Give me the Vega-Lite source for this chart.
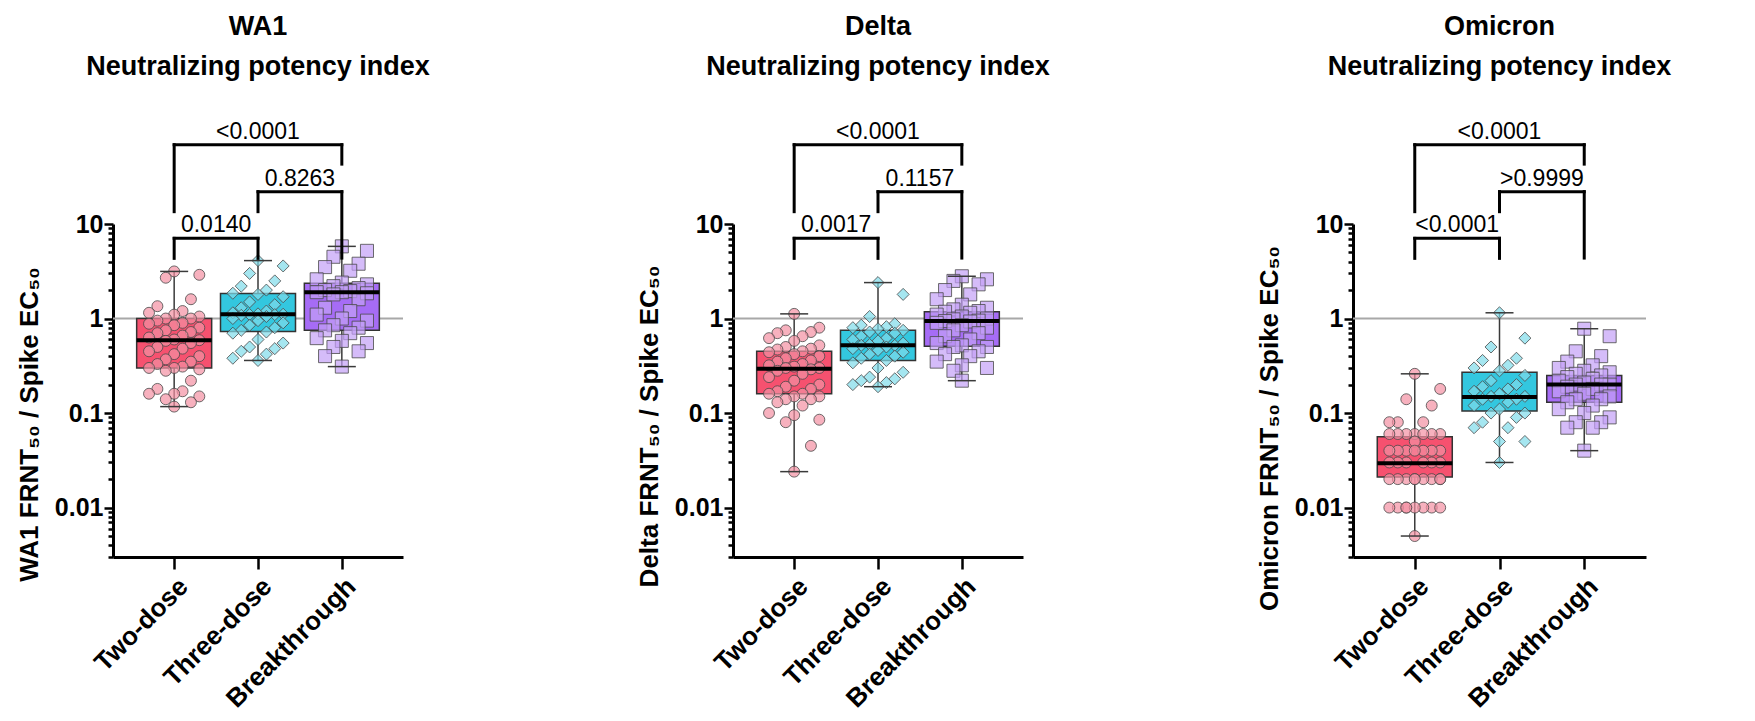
{
"$schema": "https://vega.github.io/schema/vega-lite/v6.json",
"background": "white",
"padding": {"left": 16, "top": 12, "right": 5, "bottom": 2},
"config": {
  "view": {"stroke": null},
  "font": "Liberation Sans",
  "axis": {"grid": false, "domainColor": "black", "domainWidth": 3, "tickColor": "black", "tickWidth": 2.5, "labelFont": "Liberation Sans", "labelFontWeight": "bold", "labelColor": "black", "titleFont": "Liberation Sans", "titleFontWeight": "bold", "titleColor": "black"},
  "title": {"font": "Liberation Sans", "fontSize": 27, "fontWeight": "bold", "color": "black", "lineHeight": 40, "anchor": "middle", "frame": "group", "offset": 40}
},
"datasets": {
  "ref": [{"y": 1}],
  "stats": [
    {"v": "WA1", "g": "Two-dose", "min": 0.117, "q1": 0.30, "med": 0.59, "q3": 1.0, "max": 3.15},
    {"v": "WA1", "g": "Three-dose", "min": 0.36, "q1": 0.73, "med": 1.11, "q3": 1.84, "max": 4.1},
    {"v": "WA1", "g": "Breakthrough", "min": 0.31, "q1": 0.75, "med": 1.9, "q3": 2.36, "max": 5.8},
    {"v": "Delta", "g": "Two-dose", "min": 0.024, "q1": 0.16, "med": 0.295, "q3": 0.45, "max": 1.12},
    {"v": "Delta", "g": "Three-dose", "min": 0.19, "q1": 0.36, "med": 0.52, "q3": 0.75, "max": 2.4},
    {"v": "Delta", "g": "Breakthrough", "min": 0.22, "q1": 0.51, "med": 0.94, "q3": 1.18, "max": 2.8},
    {"v": "Omicron", "g": "Two-dose", "min": 0.005, "q1": 0.021, "med": 0.0295, "q3": 0.056, "max": 0.26},
    {"v": "Omicron", "g": "Three-dose", "min": 0.03, "q1": 0.105, "med": 0.148, "q3": 0.27, "max": 1.15},
    {"v": "Omicron", "g": "Breakthrough", "min": 0.04, "q1": 0.13, "med": 0.20, "q3": 0.25, "max": 0.78}
  ],
  "br": [
    {"v": "WA1", "a": 0, "b": 2, "top": 69, "lb": 13.5, "rb": 43, "p": "<0.0001"},
    {"v": "WA1", "a": 1, "b": 2, "top": 22, "lb": 13.5, "rb": 4.36, "p": "0.8263"},
    {"v": "WA1", "a": 0, "b": 1, "top": 7.05, "lb": 4.33, "rb": 4.33, "p": "0.0140"},
    {"v": "Delta", "a": 0, "b": 2, "top": 69, "lb": 13.5, "rb": 43, "p": "<0.0001"},
    {"v": "Delta", "a": 1, "b": 2, "top": 22, "lb": 13.5, "rb": 4.36, "p": "0.1157"},
    {"v": "Delta", "a": 0, "b": 1, "top": 7.05, "lb": 4.33, "rb": 4.33, "p": "0.0017"},
    {"v": "Omicron", "a": 0, "b": 2, "top": 69, "lb": 13.5, "rb": 43, "p": "<0.0001"},
    {"v": "Omicron", "a": 1, "b": 2, "top": 22, "lb": 13.5, "rb": 4.36, "p": ">0.9999"},
    {"v": "Omicron", "a": 0, "b": 1, "top": 7.05, "lb": 4.33, "rb": 4.33, "p": "<0.0001"}
  ],
  "pts": [
    {"v":"WA1","g":"Two-dose","y":3.15},{"v":"WA1","g":"Two-dose","y":2.9},{"v":"WA1","g":"Two-dose","y":2.7},{"v":"WA1","g":"Two-dose","y":1.6},{"v":"WA1","g":"Two-dose","y":1.35},{"v":"WA1","g":"Two-dose","y":1.2},{"v":"WA1","g":"Two-dose","y":1.15},{"v":"WA1","g":"Two-dose","y":1.1},{"v":"WA1","g":"Two-dose","y":1.05},{"v":"WA1","g":"Two-dose","y":1.0},{"v":"WA1","g":"Two-dose","y":1.0},{"v":"WA1","g":"Two-dose","y":0.95},{"v":"WA1","g":"Two-dose","y":0.9},{"v":"WA1","g":"Two-dose","y":0.88},{"v":"WA1","g":"Two-dose","y":0.85},{"v":"WA1","g":"Two-dose","y":0.8},{"v":"WA1","g":"Two-dose","y":0.75},{"v":"WA1","g":"Two-dose","y":0.72},{"v":"WA1","g":"Two-dose","y":0.7},{"v":"WA1","g":"Two-dose","y":0.66},{"v":"WA1","g":"Two-dose","y":0.63},{"v":"WA1","g":"Two-dose","y":0.6},{"v":"WA1","g":"Two-dose","y":0.59},{"v":"WA1","g":"Two-dose","y":0.58},{"v":"WA1","g":"Two-dose","y":0.55},{"v":"WA1","g":"Two-dose","y":0.5},{"v":"WA1","g":"Two-dose","y":0.48},{"v":"WA1","g":"Two-dose","y":0.45},{"v":"WA1","g":"Two-dose","y":0.42},{"v":"WA1","g":"Two-dose","y":0.4},{"v":"WA1","g":"Two-dose","y":0.37},{"v":"WA1","g":"Two-dose","y":0.35},{"v":"WA1","g":"Two-dose","y":0.33},{"v":"WA1","g":"Two-dose","y":0.31},{"v":"WA1","g":"Two-dose","y":0.3},{"v":"WA1","g":"Two-dose","y":0.3},{"v":"WA1","g":"Two-dose","y":0.29},{"v":"WA1","g":"Two-dose","y":0.28},{"v":"WA1","g":"Two-dose","y":0.22},{"v":"WA1","g":"Two-dose","y":0.18},{"v":"WA1","g":"Two-dose","y":0.17},{"v":"WA1","g":"Two-dose","y":0.16},{"v":"WA1","g":"Two-dose","y":0.16},{"v":"WA1","g":"Two-dose","y":0.15},{"v":"WA1","g":"Two-dose","y":0.14},{"v":"WA1","g":"Two-dose","y":0.13},{"v":"WA1","g":"Two-dose","y":0.117},
    {"v":"WA1","g":"Three-dose","y":4.1},{"v":"WA1","g":"Three-dose","y":3.6},{"v":"WA1","g":"Three-dose","y":3.0},{"v":"WA1","g":"Three-dose","y":2.5},{"v":"WA1","g":"Three-dose","y":2.2},{"v":"WA1","g":"Three-dose","y":2.0},{"v":"WA1","g":"Three-dose","y":1.85},{"v":"WA1","g":"Three-dose","y":1.8},{"v":"WA1","g":"Three-dose","y":1.7},{"v":"WA1","g":"Three-dose","y":1.5},{"v":"WA1","g":"Three-dose","y":1.4},{"v":"WA1","g":"Three-dose","y":1.3},{"v":"WA1","g":"Three-dose","y":1.2},{"v":"WA1","g":"Three-dose","y":1.15},{"v":"WA1","g":"Three-dose","y":1.12},{"v":"WA1","g":"Three-dose","y":1.11},{"v":"WA1","g":"Three-dose","y":1.1},{"v":"WA1","g":"Three-dose","y":1.1},{"v":"WA1","g":"Three-dose","y":1.08},{"v":"WA1","g":"Three-dose","y":1.05},{"v":"WA1","g":"Three-dose","y":1.0},{"v":"WA1","g":"Three-dose","y":0.95},{"v":"WA1","g":"Three-dose","y":0.9},{"v":"WA1","g":"Three-dose","y":0.85},{"v":"WA1","g":"Three-dose","y":0.8},{"v":"WA1","g":"Three-dose","y":0.75},{"v":"WA1","g":"Three-dose","y":0.72},{"v":"WA1","g":"Three-dose","y":0.7},{"v":"WA1","g":"Three-dose","y":0.6},{"v":"WA1","g":"Three-dose","y":0.55},{"v":"WA1","g":"Three-dose","y":0.5},{"v":"WA1","g":"Three-dose","y":0.48},{"v":"WA1","g":"Three-dose","y":0.45},{"v":"WA1","g":"Three-dose","y":0.42},{"v":"WA1","g":"Three-dose","y":0.38},{"v":"WA1","g":"Three-dose","y":0.36},
    {"v":"WA1","g":"Breakthrough","y":5.8},{"v":"WA1","g":"Breakthrough","y":5.2},{"v":"WA1","g":"Breakthrough","y":4.5},{"v":"WA1","g":"Breakthrough","y":3.8},{"v":"WA1","g":"Breakthrough","y":3.5},{"v":"WA1","g":"Breakthrough","y":3.2},{"v":"WA1","g":"Breakthrough","y":2.6},{"v":"WA1","g":"Breakthrough","y":2.4},{"v":"WA1","g":"Breakthrough","y":2.3},{"v":"WA1","g":"Breakthrough","y":2.2},{"v":"WA1","g":"Breakthrough","y":2.1},{"v":"WA1","g":"Breakthrough","y":2.0},{"v":"WA1","g":"Breakthrough","y":1.95},{"v":"WA1","g":"Breakthrough","y":1.9},{"v":"WA1","g":"Breakthrough","y":1.9},{"v":"WA1","g":"Breakthrough","y":1.85},{"v":"WA1","g":"Breakthrough","y":1.8},{"v":"WA1","g":"Breakthrough","y":1.6},{"v":"WA1","g":"Breakthrough","y":1.3},{"v":"WA1","g":"Breakthrough","y":1.2},{"v":"WA1","g":"Breakthrough","y":1.1},{"v":"WA1","g":"Breakthrough","y":1.0},{"v":"WA1","g":"Breakthrough","y":0.95},{"v":"WA1","g":"Breakthrough","y":0.85},{"v":"WA1","g":"Breakthrough","y":0.8},{"v":"WA1","g":"Breakthrough","y":0.75},{"v":"WA1","g":"Breakthrough","y":0.7},{"v":"WA1","g":"Breakthrough","y":0.62},{"v":"WA1","g":"Breakthrough","y":0.58},{"v":"WA1","g":"Breakthrough","y":0.55},{"v":"WA1","g":"Breakthrough","y":0.5},{"v":"WA1","g":"Breakthrough","y":0.45},{"v":"WA1","g":"Breakthrough","y":0.4},{"v":"WA1","g":"Breakthrough","y":0.31},
    {"v":"Delta","g":"Two-dose","y":1.12},{"v":"Delta","g":"Two-dose","y":0.8},{"v":"Delta","g":"Two-dose","y":0.75},{"v":"Delta","g":"Two-dose","y":0.72},{"v":"Delta","g":"Two-dose","y":0.7},{"v":"Delta","g":"Two-dose","y":0.65},{"v":"Delta","g":"Two-dose","y":0.62},{"v":"Delta","g":"Two-dose","y":0.58},{"v":"Delta","g":"Two-dose","y":0.52},{"v":"Delta","g":"Two-dose","y":0.5},{"v":"Delta","g":"Two-dose","y":0.48},{"v":"Delta","g":"Two-dose","y":0.47},{"v":"Delta","g":"Two-dose","y":0.45},{"v":"Delta","g":"Two-dose","y":0.44},{"v":"Delta","g":"Two-dose","y":0.42},{"v":"Delta","g":"Two-dose","y":0.4},{"v":"Delta","g":"Two-dose","y":0.38},{"v":"Delta","g":"Two-dose","y":0.36},{"v":"Delta","g":"Two-dose","y":0.35},{"v":"Delta","g":"Two-dose","y":0.33},{"v":"Delta","g":"Two-dose","y":0.32},{"v":"Delta","g":"Two-dose","y":0.31},{"v":"Delta","g":"Two-dose","y":0.3},{"v":"Delta","g":"Two-dose","y":0.3},{"v":"Delta","g":"Two-dose","y":0.29},{"v":"Delta","g":"Two-dose","y":0.28},{"v":"Delta","g":"Two-dose","y":0.26},{"v":"Delta","g":"Two-dose","y":0.24},{"v":"Delta","g":"Two-dose","y":0.22},{"v":"Delta","g":"Two-dose","y":0.2},{"v":"Delta","g":"Two-dose","y":0.19},{"v":"Delta","g":"Two-dose","y":0.18},{"v":"Delta","g":"Two-dose","y":0.17},{"v":"Delta","g":"Two-dose","y":0.16},{"v":"Delta","g":"Two-dose","y":0.16},{"v":"Delta","g":"Two-dose","y":0.15},{"v":"Delta","g":"Two-dose","y":0.15},{"v":"Delta","g":"Two-dose","y":0.14},{"v":"Delta","g":"Two-dose","y":0.14},{"v":"Delta","g":"Two-dose","y":0.13},{"v":"Delta","g":"Two-dose","y":0.12},{"v":"Delta","g":"Two-dose","y":0.1},{"v":"Delta","g":"Two-dose","y":0.095},{"v":"Delta","g":"Two-dose","y":0.085},{"v":"Delta","g":"Two-dose","y":0.08},{"v":"Delta","g":"Two-dose","y":0.045},{"v":"Delta","g":"Two-dose","y":0.024},
    {"v":"Delta","g":"Three-dose","y":2.4},{"v":"Delta","g":"Three-dose","y":1.8},{"v":"Delta","g":"Three-dose","y":1.05},{"v":"Delta","g":"Three-dose","y":0.88},{"v":"Delta","g":"Three-dose","y":0.85},{"v":"Delta","g":"Three-dose","y":0.82},{"v":"Delta","g":"Three-dose","y":0.8},{"v":"Delta","g":"Three-dose","y":0.78},{"v":"Delta","g":"Three-dose","y":0.75},{"v":"Delta","g":"Three-dose","y":0.72},{"v":"Delta","g":"Three-dose","y":0.7},{"v":"Delta","g":"Three-dose","y":0.65},{"v":"Delta","g":"Three-dose","y":0.62},{"v":"Delta","g":"Three-dose","y":0.6},{"v":"Delta","g":"Three-dose","y":0.58},{"v":"Delta","g":"Three-dose","y":0.55},{"v":"Delta","g":"Three-dose","y":0.53},{"v":"Delta","g":"Three-dose","y":0.52},{"v":"Delta","g":"Three-dose","y":0.52},{"v":"Delta","g":"Three-dose","y":0.5},{"v":"Delta","g":"Three-dose","y":0.48},{"v":"Delta","g":"Three-dose","y":0.46},{"v":"Delta","g":"Three-dose","y":0.44},{"v":"Delta","g":"Three-dose","y":0.42},{"v":"Delta","g":"Three-dose","y":0.4},{"v":"Delta","g":"Three-dose","y":0.38},{"v":"Delta","g":"Three-dose","y":0.36},{"v":"Delta","g":"Three-dose","y":0.34},{"v":"Delta","g":"Three-dose","y":0.3},{"v":"Delta","g":"Three-dose","y":0.27},{"v":"Delta","g":"Three-dose","y":0.24},{"v":"Delta","g":"Three-dose","y":0.23},{"v":"Delta","g":"Three-dose","y":0.22},{"v":"Delta","g":"Three-dose","y":0.21},{"v":"Delta","g":"Three-dose","y":0.2},{"v":"Delta","g":"Three-dose","y":0.19},
    {"v":"Delta","g":"Breakthrough","y":2.8},{"v":"Delta","g":"Breakthrough","y":2.6},{"v":"Delta","g":"Breakthrough","y":2.5},{"v":"Delta","g":"Breakthrough","y":2.3},{"v":"Delta","g":"Breakthrough","y":2.0},{"v":"Delta","g":"Breakthrough","y":1.8},{"v":"Delta","g":"Breakthrough","y":1.6},{"v":"Delta","g":"Breakthrough","y":1.4},{"v":"Delta","g":"Breakthrough","y":1.3},{"v":"Delta","g":"Breakthrough","y":1.25},{"v":"Delta","g":"Breakthrough","y":1.2},{"v":"Delta","g":"Breakthrough","y":1.18},{"v":"Delta","g":"Breakthrough","y":1.15},{"v":"Delta","g":"Breakthrough","y":1.1},{"v":"Delta","g":"Breakthrough","y":1.05},{"v":"Delta","g":"Breakthrough","y":1.0},{"v":"Delta","g":"Breakthrough","y":0.98},{"v":"Delta","g":"Breakthrough","y":0.95},{"v":"Delta","g":"Breakthrough","y":0.94},{"v":"Delta","g":"Breakthrough","y":0.93},{"v":"Delta","g":"Breakthrough","y":0.9},{"v":"Delta","g":"Breakthrough","y":0.85},{"v":"Delta","g":"Breakthrough","y":0.8},{"v":"Delta","g":"Breakthrough","y":0.75},{"v":"Delta","g":"Breakthrough","y":0.7},{"v":"Delta","g":"Breakthrough","y":0.65},{"v":"Delta","g":"Breakthrough","y":0.6},{"v":"Delta","g":"Breakthrough","y":0.55},{"v":"Delta","g":"Breakthrough","y":0.52},{"v":"Delta","g":"Breakthrough","y":0.5},{"v":"Delta","g":"Breakthrough","y":0.5},{"v":"Delta","g":"Breakthrough","y":0.45},{"v":"Delta","g":"Breakthrough","y":0.42},{"v":"Delta","g":"Breakthrough","y":0.4},{"v":"Delta","g":"Breakthrough","y":0.35},{"v":"Delta","g":"Breakthrough","y":0.32},{"v":"Delta","g":"Breakthrough","y":0.3},{"v":"Delta","g":"Breakthrough","y":0.28},{"v":"Delta","g":"Breakthrough","y":0.22},
    {"v":"Omicron","g":"Two-dose","y":0.26},{"v":"Omicron","g":"Two-dose","y":0.18},{"v":"Omicron","g":"Two-dose","y":0.14},{"v":"Omicron","g":"Two-dose","y":0.12},{"v":"Omicron","g":"Two-dose","y":0.08},{"v":"Omicron","g":"Two-dose","y":0.08},{"v":"Omicron","g":"Two-dose","y":0.08},{"v":"Omicron","g":"Two-dose","y":0.06},{"v":"Omicron","g":"Two-dose","y":0.06},{"v":"Omicron","g":"Two-dose","y":0.06},{"v":"Omicron","g":"Two-dose","y":0.06},{"v":"Omicron","g":"Two-dose","y":0.06},{"v":"Omicron","g":"Two-dose","y":0.06},{"v":"Omicron","g":"Two-dose","y":0.06},{"v":"Omicron","g":"Two-dose","y":0.05},{"v":"Omicron","g":"Two-dose","y":0.04},{"v":"Omicron","g":"Two-dose","y":0.04},{"v":"Omicron","g":"Two-dose","y":0.04},{"v":"Omicron","g":"Two-dose","y":0.04},{"v":"Omicron","g":"Two-dose","y":0.04},{"v":"Omicron","g":"Two-dose","y":0.04},{"v":"Omicron","g":"Two-dose","y":0.04},{"v":"Omicron","g":"Two-dose","y":0.03},{"v":"Omicron","g":"Two-dose","y":0.03},{"v":"Omicron","g":"Two-dose","y":0.03},{"v":"Omicron","g":"Two-dose","y":0.03},{"v":"Omicron","g":"Two-dose","y":0.03},{"v":"Omicron","g":"Two-dose","y":0.03},{"v":"Omicron","g":"Two-dose","y":0.02},{"v":"Omicron","g":"Two-dose","y":0.02},{"v":"Omicron","g":"Two-dose","y":0.02},{"v":"Omicron","g":"Two-dose","y":0.02},{"v":"Omicron","g":"Two-dose","y":0.02},{"v":"Omicron","g":"Two-dose","y":0.02},{"v":"Omicron","g":"Two-dose","y":0.02},{"v":"Omicron","g":"Two-dose","y":0.02},{"v":"Omicron","g":"Two-dose","y":0.02},{"v":"Omicron","g":"Two-dose","y":0.01},{"v":"Omicron","g":"Two-dose","y":0.01},{"v":"Omicron","g":"Two-dose","y":0.01},{"v":"Omicron","g":"Two-dose","y":0.01},{"v":"Omicron","g":"Two-dose","y":0.01},{"v":"Omicron","g":"Two-dose","y":0.01},{"v":"Omicron","g":"Two-dose","y":0.01},{"v":"Omicron","g":"Two-dose","y":0.01},{"v":"Omicron","g":"Two-dose","y":0.005},
    {"v":"Omicron","g":"Three-dose","y":1.15},{"v":"Omicron","g":"Three-dose","y":0.62},{"v":"Omicron","g":"Three-dose","y":0.5},{"v":"Omicron","g":"Three-dose","y":0.38},{"v":"Omicron","g":"Three-dose","y":0.36},{"v":"Omicron","g":"Three-dose","y":0.32},{"v":"Omicron","g":"Three-dose","y":0.3},{"v":"Omicron","g":"Three-dose","y":0.28},{"v":"Omicron","g":"Three-dose","y":0.25},{"v":"Omicron","g":"Three-dose","y":0.22},{"v":"Omicron","g":"Three-dose","y":0.2},{"v":"Omicron","g":"Three-dose","y":0.19},{"v":"Omicron","g":"Three-dose","y":0.18},{"v":"Omicron","g":"Three-dose","y":0.17},{"v":"Omicron","g":"Three-dose","y":0.16},{"v":"Omicron","g":"Three-dose","y":0.15},{"v":"Omicron","g":"Three-dose","y":0.15},{"v":"Omicron","g":"Three-dose","y":0.14},{"v":"Omicron","g":"Three-dose","y":0.14},{"v":"Omicron","g":"Three-dose","y":0.13},{"v":"Omicron","g":"Three-dose","y":0.12},{"v":"Omicron","g":"Three-dose","y":0.11},{"v":"Omicron","g":"Three-dose","y":0.1},{"v":"Omicron","g":"Three-dose","y":0.1},{"v":"Omicron","g":"Three-dose","y":0.09},{"v":"Omicron","g":"Three-dose","y":0.08},{"v":"Omicron","g":"Three-dose","y":0.07},{"v":"Omicron","g":"Three-dose","y":0.07},{"v":"Omicron","g":"Three-dose","y":0.05},{"v":"Omicron","g":"Three-dose","y":0.05},{"v":"Omicron","g":"Three-dose","y":0.03},
    {"v":"Omicron","g":"Breakthrough","y":0.78},{"v":"Omicron","g":"Breakthrough","y":0.65},{"v":"Omicron","g":"Breakthrough","y":0.45},{"v":"Omicron","g":"Breakthrough","y":0.4},{"v":"Omicron","g":"Breakthrough","y":0.35},{"v":"Omicron","g":"Breakthrough","y":0.32},{"v":"Omicron","g":"Breakthrough","y":0.3},{"v":"Omicron","g":"Breakthrough","y":0.28},{"v":"Omicron","g":"Breakthrough","y":0.27},{"v":"Omicron","g":"Breakthrough","y":0.26},{"v":"Omicron","g":"Breakthrough","y":0.25},{"v":"Omicron","g":"Breakthrough","y":0.24},{"v":"Omicron","g":"Breakthrough","y":0.23},{"v":"Omicron","g":"Breakthrough","y":0.22},{"v":"Omicron","g":"Breakthrough","y":0.21},{"v":"Omicron","g":"Breakthrough","y":0.2},{"v":"Omicron","g":"Breakthrough","y":0.2},{"v":"Omicron","g":"Breakthrough","y":0.2},{"v":"Omicron","g":"Breakthrough","y":0.19},{"v":"Omicron","g":"Breakthrough","y":0.18},{"v":"Omicron","g":"Breakthrough","y":0.17},{"v":"Omicron","g":"Breakthrough","y":0.16},{"v":"Omicron","g":"Breakthrough","y":0.15},{"v":"Omicron","g":"Breakthrough","y":0.14},{"v":"Omicron","g":"Breakthrough","y":0.14},{"v":"Omicron","g":"Breakthrough","y":0.13},{"v":"Omicron","g":"Breakthrough","y":0.12},{"v":"Omicron","g":"Breakthrough","y":0.11},{"v":"Omicron","g":"Breakthrough","y":0.1},{"v":"Omicron","g":"Breakthrough","y":0.09},{"v":"Omicron","g":"Breakthrough","y":0.08},{"v":"Omicron","g":"Breakthrough","y":0.08},{"v":"Omicron","g":"Breakthrough","y":0.07},{"v":"Omicron","g":"Breakthrough","y":0.07},{"v":"Omicron","g":"Breakthrough","y":0.04}
  ]
},
"spacing": 330,
"bounds": "flush",
"hconcat": [
 {
  "title": {"text": ["WA1", "Neutralizing potency index"]},
  "width": 290, "height": 333,
  "layer": [
   {"data": {"name": "ref"}, "mark": {"type": "rule", "color": "#a8a8a8", "strokeWidth": 2},
    "encoding": {"y": {"field": "y", "type": "quantitative", "scale": {"type": "log", "domain": [0.003, 10], "nice": false}}}},
   {"data": {"name": "stats"}, "transform": [{"filter": "datum.v == 'WA1'"}, {"calculate": "indexof(['Two-dose','Three-dose','Breakthrough'], datum.g)", "as": "gi"}],
    "mark": {"type": "rule", "color": "#3a3a3a", "strokeWidth": 1.5},
    "encoding": {
      "x": {"field": "gi", "type": "quantitative", "scale": {"domain": [-0.67, 2.67], "nice": false, "zero": false},
            "axis": {"title": null, "values": [0, 1, 2], "labelExpr": "['Two-dose','Three-dose','Breakthrough'][datum.value]", "labelAngle": -45, "labelFontSize": 26, "tickSize": 12, "labelPadding": 4, "labelOverlap": false}},
      "y": {"field": "min", "type": "quantitative", "scale": {"type": "log", "domain": [0.003, 10], "nice": false},
            "axis": {"title": "WA1 FRNT₅₀ / Spike EC₅₀", "titleFontSize": 26, "titlePadding": 12, "titleY": 200, "labelFontSize": 25, "labelPadding": 1, "labelOverlap": false,
                     "values": [0.003,0.004,0.005,0.006,0.007,0.008,0.009,0.01,0.02,0.03,0.04,0.05,0.06,0.07,0.08,0.09,0.1,0.2,0.3,0.4,0.5,0.6,0.7,0.8,0.9,1,2,3,4,5,6,7,8,9,10],
                     "labelExpr": "datum.value == 10 ? '10' : datum.value == 1 ? '1' : datum.value == 0.1 ? '0.1' : datum.value == 0.01 ? '0.01' : ''",
                     "tickSize": {"condition": {"test": "datum.value == 10 || datum.value == 1 || datum.value == 0.1 || datum.value == 0.01", "value": 9}, "value": 5}}},
      "y2": {"field": "max"}}},
   {"data": {"name": "stats"}, "transform": [{"filter": "datum.v == 'WA1'"}, {"calculate": "indexof(['Two-dose','Three-dose','Breakthrough'], datum.g)", "as": "gi"}],
    "mark": {"type": "bar", "size": 75, "stroke": "#333333", "strokeWidth": 1.5},
    "encoding": {"x": {"field": "gi", "type": "quantitative"}, "y": {"field": "q1", "type": "quantitative"}, "y2": {"field": "q3"},
      "fill": {"field": "g", "type": "nominal", "scale": {"domain": ["Two-dose", "Three-dose", "Breakthrough"], "range": ["#f6516f", "#33c7df", "#a66cf6"]}, "legend": null}}},
   {"data": {"name": "pts"}, "transform": [{"filter": "datum.v == 'WA1'"}, {"calculate": "indexof(['Two-dose','Three-dose','Breakthrough'], datum.g)", "as": "gi"},
      {"window": [{"op": "row_number", "as": "rn"}], "groupby": ["g"], "sort": [{"field": "y", "order": "descending"}]},
      {"joinaggregate": [{"op": "count", "as": "n"}], "groupby": ["g"]},
      {"calculate": "datum.rn == 1 || datum.rn == datum.n ? datum.gi : datum.gi + ((datum.rn * 3) % 7 - 3) * 0.1", "as": "xp"}],
    "mark": {"type": "point", "filled": true, "fillOpacity": 0.7, "stroke": "#4a4a4a", "strokeWidth": 1, "strokeOpacity": 0.8},
    "encoding": {"x": {"field": "xp", "type": "quantitative"}, "y": {"field": "y", "type": "quantitative"},
      "color": {"field": "g", "type": "nominal", "scale": {"domain": ["Two-dose", "Three-dose", "Breakthrough"], "range": ["#f490a3", "#7fdbea", "#c3a0f7"]}, "legend": null},
      "shape": {"field": "g", "type": "nominal", "scale": {"domain": ["Two-dose", "Three-dose", "Breakthrough"], "range": ["circle", "diamond", "square"]}, "legend": null},
      "size": {"field": "g", "type": "nominal", "scale": {"domain": ["Two-dose", "Three-dose", "Breakthrough"], "range": [120, 170, 115]}, "legend": null}}},
   {"data": {"name": "stats"}, "transform": [{"filter": "datum.v == 'WA1'"}, {"calculate": "indexof(['Two-dose','Three-dose','Breakthrough'], datum.g)", "as": "gi"}],
    "mark": {"type": "tick", "orient": "horizontal", "size": 75, "thickness": 4, "color": "black", "opacity": 1},
    "encoding": {"x": {"field": "gi", "type": "quantitative"}, "y": {"field": "med", "type": "quantitative"}}},
   {"data": {"name": "stats"}, "transform": [{"filter": "datum.v == 'WA1'"}, {"calculate": "indexof(['Two-dose','Three-dose','Breakthrough'], datum.g)", "as": "gi"}],
    "mark": {"type": "tick", "orient": "horizontal", "size": 28, "thickness": 1.5, "color": "#3a3a3a", "opacity": 1},
    "encoding": {"x": {"field": "gi", "type": "quantitative"}, "y": {"field": "min", "type": "quantitative"}}},
   {"data": {"name": "stats"}, "transform": [{"filter": "datum.v == 'WA1'"}, {"calculate": "indexof(['Two-dose','Three-dose','Breakthrough'], datum.g)", "as": "gi"}],
    "mark": {"type": "tick", "orient": "horizontal", "size": 28, "thickness": 1.5, "color": "#3a3a3a", "opacity": 1},
    "encoding": {"x": {"field": "gi", "type": "quantitative"}, "y": {"field": "max", "type": "quantitative"}}},
   {"data": {"name": "br"}, "transform": [{"filter": "datum.v == 'WA1'"}],
    "mark": {"type": "rule", "color": "black", "strokeWidth": 3, "strokeCap": "square"},
    "encoding": {"x": {"field": "a", "type": "quantitative"}, "x2": {"field": "b"}, "y": {"field": "top", "type": "quantitative"}}},
   {"data": {"name": "br"}, "transform": [{"filter": "datum.v == 'WA1'"}],
    "mark": {"type": "rule", "color": "black", "strokeWidth": 3, "strokeCap": "square"},
    "encoding": {"x": {"field": "a", "type": "quantitative"}, "y": {"field": "top", "type": "quantitative"}, "y2": {"field": "lb"}}},
   {"data": {"name": "br"}, "transform": [{"filter": "datum.v == 'WA1'"}],
    "mark": {"type": "rule", "color": "black", "strokeWidth": 3, "strokeCap": "square"},
    "encoding": {"x": {"field": "b", "type": "quantitative"}, "y": {"field": "top", "type": "quantitative"}, "y2": {"field": "rb"}}},
   {"data": {"name": "br"}, "transform": [{"filter": "datum.v == 'WA1'"}, {"calculate": "(datum.a + datum.b) / 2", "as": "mid"}],
    "mark": {"type": "text", "fontSize": 23, "baseline": "alphabetic", "dy": -6, "color": "black", "font": "Liberation Sans"},
    "encoding": {"x": {"field": "mid", "type": "quantitative"}, "y": {"field": "top", "type": "quantitative"}, "text": {"field": "p"}}}
  ]
 },
 {
  "title": {"text": ["Delta", "Neutralizing potency index"]},
  "width": 290, "height": 333,
  "layer": [
   {"data": {"name": "ref"}, "mark": {"type": "rule", "color": "#a8a8a8", "strokeWidth": 2},
    "encoding": {"y": {"field": "y", "type": "quantitative", "scale": {"type": "log", "domain": [0.003, 10], "nice": false}}}},
   {"data": {"name": "stats"}, "transform": [{"filter": "datum.v == 'Delta'"}, {"calculate": "indexof(['Two-dose','Three-dose','Breakthrough'], datum.g)", "as": "gi"}],
    "mark": {"type": "rule", "color": "#3a3a3a", "strokeWidth": 1.5},
    "encoding": {
      "x": {"field": "gi", "type": "quantitative", "scale": {"domain": [-0.67, 2.67], "nice": false, "zero": false},
            "axis": {"title": null, "values": [0, 1, 2], "labelExpr": "['Two-dose','Three-dose','Breakthrough'][datum.value]", "labelAngle": -45, "labelFontSize": 26, "tickSize": 12, "labelPadding": 4, "labelOverlap": false}},
      "y": {"field": "min", "type": "quantitative", "scale": {"type": "log", "domain": [0.003, 10], "nice": false},
            "axis": {"title": "Delta FRNT₅₀ / Spike EC₅₀", "titleFontSize": 26, "titlePadding": 12, "titleY": 202, "labelFontSize": 25, "labelPadding": 1, "labelOverlap": false,
                     "values": [0.003,0.004,0.005,0.006,0.007,0.008,0.009,0.01,0.02,0.03,0.04,0.05,0.06,0.07,0.08,0.09,0.1,0.2,0.3,0.4,0.5,0.6,0.7,0.8,0.9,1,2,3,4,5,6,7,8,9,10],
                     "labelExpr": "datum.value == 10 ? '10' : datum.value == 1 ? '1' : datum.value == 0.1 ? '0.1' : datum.value == 0.01 ? '0.01' : ''",
                     "tickSize": {"condition": {"test": "datum.value == 10 || datum.value == 1 || datum.value == 0.1 || datum.value == 0.01", "value": 9}, "value": 5}}},
      "y2": {"field": "max"}}},
   {"data": {"name": "stats"}, "transform": [{"filter": "datum.v == 'Delta'"}, {"calculate": "indexof(['Two-dose','Three-dose','Breakthrough'], datum.g)", "as": "gi"}],
    "mark": {"type": "bar", "size": 75, "stroke": "#333333", "strokeWidth": 1.5},
    "encoding": {"x": {"field": "gi", "type": "quantitative"}, "y": {"field": "q1", "type": "quantitative"}, "y2": {"field": "q3"},
      "fill": {"field": "g", "type": "nominal", "scale": {"domain": ["Two-dose", "Three-dose", "Breakthrough"], "range": ["#f6516f", "#33c7df", "#a66cf6"]}, "legend": null}}},
   {"data": {"name": "pts"}, "transform": [{"filter": "datum.v == 'Delta'"}, {"calculate": "indexof(['Two-dose','Three-dose','Breakthrough'], datum.g)", "as": "gi"},
      {"window": [{"op": "row_number", "as": "rn"}], "groupby": ["g"], "sort": [{"field": "y", "order": "descending"}]},
      {"joinaggregate": [{"op": "count", "as": "n"}], "groupby": ["g"]},
      {"calculate": "datum.rn == 1 || datum.rn == datum.n ? datum.gi : datum.gi + ((datum.rn * 3) % 7 - 3) * 0.1", "as": "xp"}],
    "mark": {"type": "point", "filled": true, "fillOpacity": 0.7, "stroke": "#4a4a4a", "strokeWidth": 1, "strokeOpacity": 0.8},
    "encoding": {"x": {"field": "xp", "type": "quantitative"}, "y": {"field": "y", "type": "quantitative"},
      "color": {"field": "g", "type": "nominal", "scale": {"domain": ["Two-dose", "Three-dose", "Breakthrough"], "range": ["#f490a3", "#7fdbea", "#c3a0f7"]}, "legend": null},
      "shape": {"field": "g", "type": "nominal", "scale": {"domain": ["Two-dose", "Three-dose", "Breakthrough"], "range": ["circle", "diamond", "square"]}, "legend": null},
      "size": {"field": "g", "type": "nominal", "scale": {"domain": ["Two-dose", "Three-dose", "Breakthrough"], "range": [120, 170, 115]}, "legend": null}}},
   {"data": {"name": "stats"}, "transform": [{"filter": "datum.v == 'Delta'"}, {"calculate": "indexof(['Two-dose','Three-dose','Breakthrough'], datum.g)", "as": "gi"}],
    "mark": {"type": "tick", "orient": "horizontal", "size": 75, "thickness": 4, "color": "black", "opacity": 1},
    "encoding": {"x": {"field": "gi", "type": "quantitative"}, "y": {"field": "med", "type": "quantitative"}}},
   {"data": {"name": "stats"}, "transform": [{"filter": "datum.v == 'Delta'"}, {"calculate": "indexof(['Two-dose','Three-dose','Breakthrough'], datum.g)", "as": "gi"}],
    "mark": {"type": "tick", "orient": "horizontal", "size": 28, "thickness": 1.5, "color": "#3a3a3a", "opacity": 1},
    "encoding": {"x": {"field": "gi", "type": "quantitative"}, "y": {"field": "min", "type": "quantitative"}}},
   {"data": {"name": "stats"}, "transform": [{"filter": "datum.v == 'Delta'"}, {"calculate": "indexof(['Two-dose','Three-dose','Breakthrough'], datum.g)", "as": "gi"}],
    "mark": {"type": "tick", "orient": "horizontal", "size": 28, "thickness": 1.5, "color": "#3a3a3a", "opacity": 1},
    "encoding": {"x": {"field": "gi", "type": "quantitative"}, "y": {"field": "max", "type": "quantitative"}}},
   {"data": {"name": "br"}, "transform": [{"filter": "datum.v == 'Delta'"}],
    "mark": {"type": "rule", "color": "black", "strokeWidth": 3, "strokeCap": "square"},
    "encoding": {"x": {"field": "a", "type": "quantitative"}, "x2": {"field": "b"}, "y": {"field": "top", "type": "quantitative"}}},
   {"data": {"name": "br"}, "transform": [{"filter": "datum.v == 'Delta'"}],
    "mark": {"type": "rule", "color": "black", "strokeWidth": 3, "strokeCap": "square"},
    "encoding": {"x": {"field": "a", "type": "quantitative"}, "y": {"field": "top", "type": "quantitative"}, "y2": {"field": "lb"}}},
   {"data": {"name": "br"}, "transform": [{"filter": "datum.v == 'Delta'"}],
    "mark": {"type": "rule", "color": "black", "strokeWidth": 3, "strokeCap": "square"},
    "encoding": {"x": {"field": "b", "type": "quantitative"}, "y": {"field": "top", "type": "quantitative"}, "y2": {"field": "rb"}}},
   {"data": {"name": "br"}, "transform": [{"filter": "datum.v == 'Delta'"}, {"calculate": "(datum.a + datum.b) / 2", "as": "mid"}],
    "mark": {"type": "text", "fontSize": 23, "baseline": "alphabetic", "dy": -6, "color": "black", "font": "Liberation Sans"},
    "encoding": {"x": {"field": "mid", "type": "quantitative"}, "y": {"field": "top", "type": "quantitative"}, "text": {"field": "p"}}}
  ]
 },
 {
  "title": {"text": ["Omicron", "Neutralizing potency index"]},
  "width": 293, "height": 333,
  "layer": [
   {"data": {"name": "ref"}, "mark": {"type": "rule", "color": "#a8a8a8", "strokeWidth": 2},
    "encoding": {"y": {"field": "y", "type": "quantitative", "scale": {"type": "log", "domain": [0.003, 10], "nice": false}}}},
   {"data": {"name": "stats"}, "transform": [{"filter": "datum.v == 'Omicron'"}, {"calculate": "indexof(['Two-dose','Three-dose','Breakthrough'], datum.g)", "as": "gi"}],
    "mark": {"type": "rule", "color": "#3a3a3a", "strokeWidth": 1.5},
    "encoding": {
      "x": {"field": "gi", "type": "quantitative", "scale": {"domain": [-0.67, 2.67], "nice": false, "zero": false},
            "axis": {"title": null, "values": [0, 1, 2], "labelExpr": "['Two-dose','Three-dose','Breakthrough'][datum.value]", "labelAngle": -45, "labelFontSize": 26, "tickSize": 12, "labelPadding": 4, "labelOverlap": false}},
      "y": {"field": "min", "type": "quantitative", "scale": {"type": "log", "domain": [0.003, 10], "nice": false},
            "axis": {"title": "Omicron FRNT₅₀ / Spike EC₅₀", "titleFontSize": 26, "titlePadding": 12, "titleY": 204, "labelFontSize": 25, "labelPadding": 1, "labelOverlap": false,
                     "values": [0.003,0.004,0.005,0.006,0.007,0.008,0.009,0.01,0.02,0.03,0.04,0.05,0.06,0.07,0.08,0.09,0.1,0.2,0.3,0.4,0.5,0.6,0.7,0.8,0.9,1,2,3,4,5,6,7,8,9,10],
                     "labelExpr": "datum.value == 10 ? '10' : datum.value == 1 ? '1' : datum.value == 0.1 ? '0.1' : datum.value == 0.01 ? '0.01' : ''",
                     "tickSize": {"condition": {"test": "datum.value == 10 || datum.value == 1 || datum.value == 0.1 || datum.value == 0.01", "value": 9}, "value": 5}}},
      "y2": {"field": "max"}}},
   {"data": {"name": "stats"}, "transform": [{"filter": "datum.v == 'Omicron'"}, {"calculate": "indexof(['Two-dose','Three-dose','Breakthrough'], datum.g)", "as": "gi"}],
    "mark": {"type": "bar", "size": 75, "stroke": "#333333", "strokeWidth": 1.5},
    "encoding": {"x": {"field": "gi", "type": "quantitative"}, "y": {"field": "q1", "type": "quantitative"}, "y2": {"field": "q3"},
      "fill": {"field": "g", "type": "nominal", "scale": {"domain": ["Two-dose", "Three-dose", "Breakthrough"], "range": ["#f6516f", "#33c7df", "#a66cf6"]}, "legend": null}}},
   {"data": {"name": "pts"}, "transform": [{"filter": "datum.v == 'Omicron'"}, {"calculate": "indexof(['Two-dose','Three-dose','Breakthrough'], datum.g)", "as": "gi"},
      {"window": [{"op": "row_number", "as": "rn"}], "groupby": ["g"], "sort": [{"field": "y", "order": "descending"}]},
      {"joinaggregate": [{"op": "count", "as": "n"}], "groupby": ["g"]},
      {"calculate": "datum.rn == 1 || datum.rn == datum.n ? datum.gi : datum.gi + ((datum.rn * 3) % 7 - 3) * 0.1", "as": "xp"}],
    "mark": {"type": "point", "filled": true, "fillOpacity": 0.7, "stroke": "#4a4a4a", "strokeWidth": 1, "strokeOpacity": 0.8},
    "encoding": {"x": {"field": "xp", "type": "quantitative"}, "y": {"field": "y", "type": "quantitative"},
      "color": {"field": "g", "type": "nominal", "scale": {"domain": ["Two-dose", "Three-dose", "Breakthrough"], "range": ["#f490a3", "#7fdbea", "#c3a0f7"]}, "legend": null},
      "shape": {"field": "g", "type": "nominal", "scale": {"domain": ["Two-dose", "Three-dose", "Breakthrough"], "range": ["circle", "diamond", "square"]}, "legend": null},
      "size": {"field": "g", "type": "nominal", "scale": {"domain": ["Two-dose", "Three-dose", "Breakthrough"], "range": [120, 170, 115]}, "legend": null}}},
   {"data": {"name": "stats"}, "transform": [{"filter": "datum.v == 'Omicron'"}, {"calculate": "indexof(['Two-dose','Three-dose','Breakthrough'], datum.g)", "as": "gi"}],
    "mark": {"type": "tick", "orient": "horizontal", "size": 75, "thickness": 4, "color": "black", "opacity": 1},
    "encoding": {"x": {"field": "gi", "type": "quantitative"}, "y": {"field": "med", "type": "quantitative"}}},
   {"data": {"name": "stats"}, "transform": [{"filter": "datum.v == 'Omicron'"}, {"calculate": "indexof(['Two-dose','Three-dose','Breakthrough'], datum.g)", "as": "gi"}],
    "mark": {"type": "tick", "orient": "horizontal", "size": 28, "thickness": 1.5, "color": "#3a3a3a", "opacity": 1},
    "encoding": {"x": {"field": "gi", "type": "quantitative"}, "y": {"field": "min", "type": "quantitative"}}},
   {"data": {"name": "stats"}, "transform": [{"filter": "datum.v == 'Omicron'"}, {"calculate": "indexof(['Two-dose','Three-dose','Breakthrough'], datum.g)", "as": "gi"}],
    "mark": {"type": "tick", "orient": "horizontal", "size": 28, "thickness": 1.5, "color": "#3a3a3a", "opacity": 1},
    "encoding": {"x": {"field": "gi", "type": "quantitative"}, "y": {"field": "max", "type": "quantitative"}}},
   {"data": {"name": "br"}, "transform": [{"filter": "datum.v == 'Omicron'"}],
    "mark": {"type": "rule", "color": "black", "strokeWidth": 3, "strokeCap": "square"},
    "encoding": {"x": {"field": "a", "type": "quantitative"}, "x2": {"field": "b"}, "y": {"field": "top", "type": "quantitative"}}},
   {"data": {"name": "br"}, "transform": [{"filter": "datum.v == 'Omicron'"}],
    "mark": {"type": "rule", "color": "black", "strokeWidth": 3, "strokeCap": "square"},
    "encoding": {"x": {"field": "a", "type": "quantitative"}, "y": {"field": "top", "type": "quantitative"}, "y2": {"field": "lb"}}},
   {"data": {"name": "br"}, "transform": [{"filter": "datum.v == 'Omicron'"}],
    "mark": {"type": "rule", "color": "black", "strokeWidth": 3, "strokeCap": "square"},
    "encoding": {"x": {"field": "b", "type": "quantitative"}, "y": {"field": "top", "type": "quantitative"}, "y2": {"field": "rb"}}},
   {"data": {"name": "br"}, "transform": [{"filter": "datum.v == 'Omicron'"}, {"calculate": "(datum.a + datum.b) / 2", "as": "mid"}],
    "mark": {"type": "text", "fontSize": 23, "baseline": "alphabetic", "dy": -6, "color": "black", "font": "Liberation Sans"},
    "encoding": {"x": {"field": "mid", "type": "quantitative"}, "y": {"field": "top", "type": "quantitative"}, "text": {"field": "p"}}}
  ]
 }
]
}
